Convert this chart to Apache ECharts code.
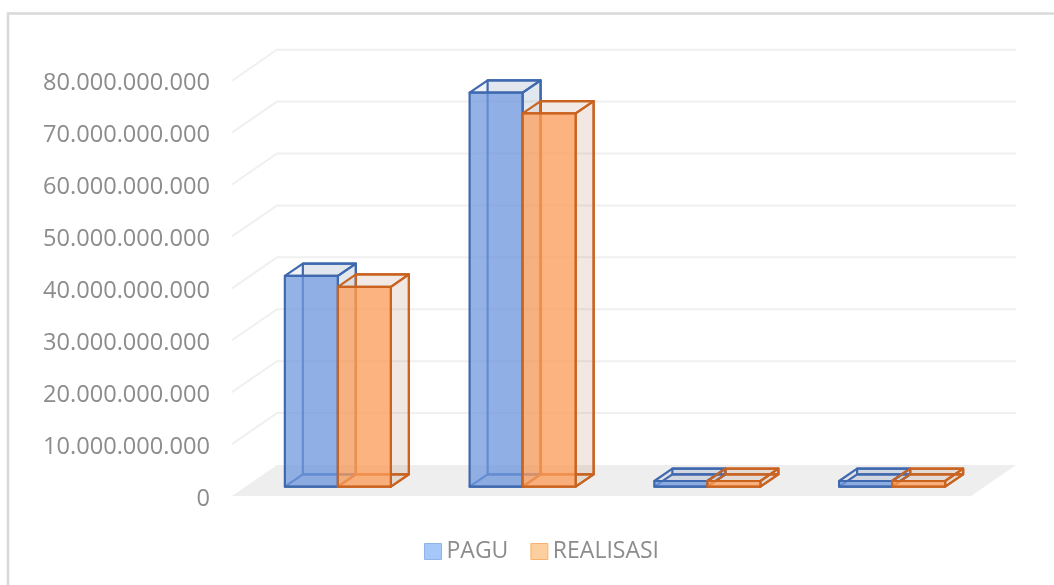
<!DOCTYPE html>
<html lang="en">
<head>
    <meta charset="UTF-8">
    <title>PAGU dan REALISASI</title>
    <style>
        html, body { margin: 0; padding: 0; background: #fff; }
        #chartBox { width: 1054px; height: 585px; }
    </style>
</head>
<body>
<div id="chartBox"></div>
<script type="text/javascript" src="https://cdn.jsdelivr.net/npm/echarts@6/dist/echarts.min.js"></script>
<script type="text/javascript">
    var categories = ['1', '2', '3', '4'];
    var pagu = [40600000000, 75900000000, 1100000000, 1100000000];
    var realisasi = [38500000000, 71900000000, 1100000000, 1100000000];
    var tickValues = [0, 10000000000, 20000000000, 30000000000, 40000000000, 50000000000, 60000000000, 70000000000, 80000000000];

    // the sloped floor / wall offset, Excel 3D look
    var depthX = 45, depthY = -31;
    var barNear = 0.3, barFar = 0.7, barWidth = 0.287;

    var looks = {
        PAGU: {
            side: -1,
            line: '#3f69ae',
            front: 'rgba(112,152,222,0.75)',
            face: 'rgba(90,130,170,0.09)',
            lid: 'rgba(90,110,170,0.09)'
        },
        REALISASI: {
            side: 0,
            line: '#c9631f',
            front: 'rgba(254,158,90,0.75)',
            face: 'rgba(165,100,60,0.08)',
            lid: 'rgba(165,100,60,0.07)'
        }
    };

    function shift(p, d) {
        return [p[0] + depthX * d, p[1] + depthY * d];
    }

    function poly(points, fill, line) {
        return {
            type: 'polygon',
            shape: { points: points },
            style: { fill: fill, stroke: line, lineWidth: 2.2, lineJoin: 'round' }
        };
    }

    function renderBar(look) {
        return function (params, api) {
            var cat = api.value(0);
            var w = api.size([1, 0])[0] * barWidth;
            var base = api.coord([cat, 0]);
            var top = api.coord([cat, api.value(1)]);
            var x0 = base[0] + look.side * w;
            var x1 = x0 + w;

            var a = shift([x0, base[1]], barNear), b = shift([x1, base[1]], barNear);
            var c = shift([x1, top[1]], barNear), d = shift([x0, top[1]], barNear);
            var e = shift([x0, base[1]], barFar), f = shift([x1, base[1]], barFar);
            var g = shift([x1, top[1]], barFar), h = shift([x0, top[1]], barFar);

            return {
                type: 'group',
                children: [
                    poly([e, f, g, h], look.lid, look.line),
                    poly([a, b, f, e], look.lid, look.line),
                    poly([b, f, g, c], look.face, look.line),
                    poly([d, c, g, h], look.lid, look.line),
                    poly([a, b, c, d], look.front, look.line)
                ]
            };
        };
    }

    function renderWall(params, api) {
        var box = params.coordSys;
        var y = api.coord([0, api.value(1)])[1];
        var left = box.x, right = box.x + box.width;
        if (api.value(1) === 0) {
            return {
                type: 'polygon',
                shape: { points: [[left, y], shift([left, y], 1), shift([right, y], 1), [right, y]] },
                style: { fill: '#eeeeee' }
            };
        }
        return {
            type: 'polyline',
            shape: { points: [[left, y], shift([left, y], 1), shift([right, y], 1)] },
            style: { fill: 'none', stroke: '#f0f0f0', lineWidth: 2 }
        };
    }

    function rows(values) {
        return values.map(function (v, i) { return [i, v]; });
    }

    var myChart = echarts.init(document.getElementById('chartBox'));
    myChart.setOption({
        animation: false,
        backgroundColor: '#fff',
        graphic: [{
            type: 'polyline',
            silent: true,
            shape: { points: [[8, 585], [8, 13.5], [1054, 13.5]] },
            style: { fill: 'none', stroke: '#d9d9d9', lineWidth: 2.5 }
        }],
        legend: {
            left: 419,
            top: 535,
            itemWidth: 17,
            itemHeight: 16,
            itemGap: 22,
            textStyle: { color: '#8c8c8c', fontFamily: 'Open Sans', fontSize: 23 },
            data: [
                { name: 'PAGU', icon: 'rect', itemStyle: { color: '#a6c8f8', borderColor: '#8fb4e8', borderWidth: 1 } },
                { name: 'REALISASI', icon: 'rect', itemStyle: { color: '#fdcf9f', borderColor: '#f9b26e', borderWidth: 1 } }
            ]
        },
        grid: { left: 232, top: 80.7, width: 739, height: 415.3 },
        xAxis: {
            type: 'category',
            data: categories,
            axisLine: { show: false },
            axisTick: { show: false },
            axisLabel: { show: false }
        },
        yAxis: {
            type: 'value',
            min: 0,
            max: 80000000000,
            interval: 10000000000,
            axisLine: { show: false },
            axisTick: { show: false },
            splitLine: { show: false },
            axisLabel: {
                margin: 22,
                color: '#8c8c8c',
                fontFamily: 'Open Sans',
                fontSize: 23.6,
                verticalAlign: 'top',
                lineHeight: 6,
                formatter: function (v) {
                    return String(v).replace(/\B(?=(\d{3})+$)/g, '.');
                }
            }
        },
        series: [
            {
                type: 'custom',
                name: 'wall',
                silent: true,
                clip: false,
                encode: { x: 0, y: 1 },
                data: tickValues.map(function (v) { return [0, v]; }),
                renderItem: renderWall
            },
            {
                type: 'custom',
                name: 'PAGU',
                clip: false,
                encode: { x: 0, y: 1 },
                data: rows(pagu),
                renderItem: renderBar(looks.PAGU)
            },
            {
                type: 'custom',
                name: 'REALISASI',
                clip: false,
                encode: { x: 0, y: 1 },
                data: rows(realisasi),
                renderItem: renderBar(looks.REALISASI)
            }
        ]
    });
</script>
</body>
</html>
